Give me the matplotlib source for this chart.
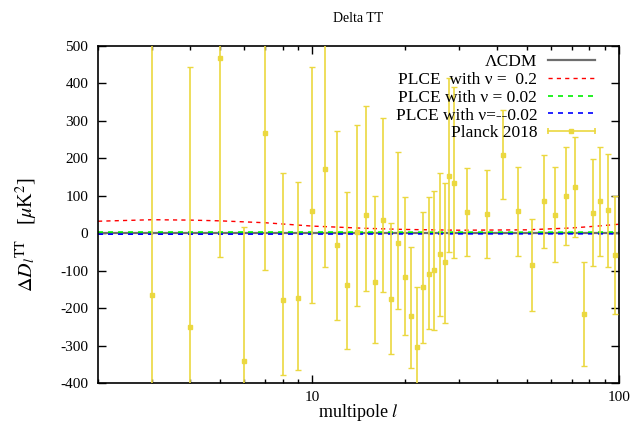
#!/usr/bin/env python3
"""Delta TT residuals: PLCE models vs. Planck 2018, relative to LCDM."""

import matplotlib
matplotlib.use("Agg")
import matplotlib.pyplot as plt
from matplotlib.container import ErrorbarContainer
from matplotlib.legend_handler import HandlerBase
from matplotlib.lines import Line2D
from matplotlib.ticker import FixedLocator, NullFormatter

plt.rcParams["font.family"] = ["Liberation Serif", "DejaVu Serif"]
plt.rcParams["mathtext.fontset"] = "stix"
plt.rcParams["axes.unicode_minus"] = False

# Planck 2018 residuals (low-l, asymmetric errors)
ell_low = [3, 4, 5, 6, 7, 8, 9, 10, 11, 12, 13, 14, 15, 16, 17, 18, 19, 20,
           21, 22, 23, 24, 25, 26, 27, 28, 29]
dl_low = [-165, -251, 467, -341, 267, -179, -173, 59, 171, -32, -139, 3, 48,
          -131, 35, -175, -26, -117, -221, -303, -144, -109, -99, -56, -77,
          152, 133]
err_up_low = [900, 696, 500, 358, 400, 340, 309, 385, 350, 305, 249, 285, 292,
              231, 273, 203, 244, 214, 185, 159, 201, 207, 212, 217, 210, 262,
              257]
err_dn_low = [650, 600, 530, 500, 366, 200, 192, 245, 261, 201, 169, 197, 201,
              163, 193, 147, 176, 155, 138, 130, 150, 148, 159, 166, 163, 201,
              198]

# Planck 2018 residuals (binned high-l, symmetric errors)
ell_bin = [32, 37, 42, 47, 52, 57, 62, 67, 72, 77, 82, 87, 92, 97]
dl_bin = [56, 51, 210, 59, -85, 85, 49, 99, 123, -216, 55, 85, 61, -59]
err_bin = [117, 118, 118, 119, 122, 124, 127, 130, 134, 138, 142, 145, 150, 158]

# model curves relative to LCDM
ell_model = [2, 3, 4, 5, 7, 10, 15, 20, 30, 50, 70, 85, 100]
plce_02 = [32, 36, 35, 33, 28, 19, 13, 10, 8, 9, 14, 19, 24]
plce_002 = [3, 3, 3, 3, 3, 3, 2.8, 2.7, 2.6, 2.5, 2.6, 2.8, 3]
plce_m002 = [-2.5, -2.5, -2.5, -2.4, -2.3, -2.2, -2, -1.8, -1.6, -1.5, -1.5,
             -1.5, -1.5]
lcdm = [0] * len(ell_model)

PLANCK_COLOR = "#ebd840"


class XErrHandler(HandlerBase):
    """gnuplot-style legend sample: horizontal bar with end caps."""

    def create_artists(self, legend, orig, xdescent, ydescent, width, height,
                       fontsize, trans):
        y = height / 2 - ydescent
        x0, x1 = -xdescent, width - xdescent
        bar = Line2D([x0, x1], [y, y], color=PLANCK_COLOR, lw=1.2)
        caps = Line2D([x0, x1], [y, y], ls="", marker="|", ms=5,
                      mew=1.2, color=PLANCK_COLOR)
        mid = Line2D([(x0 + x1) / 2], [y], ls="", marker="s", ms=3,
                     color=PLANCK_COLOR)
        for a in (bar, caps, mid):
            a.set_transform(trans)
        return [bar, caps, mid]


fig = plt.figure(figsize=(6.44, 4.38), dpi=100)
ax = fig.add_axes([0.1522, 0.1256, 0.8090, 0.7694])

h_lcdm, = ax.plot(ell_model, lcdm, color="#6e6e6e", lw=1.6, label="ΛCDM")
h_02, = ax.plot(ell_model, plce_02, color="#ff0000", lw=1, dashes=(3, 3),
                label="PLCE  with ν =  0.2")
h_002, = ax.plot(ell_model, plce_002, color="#00ee00", lw=1.2, dashes=(3, 3),
                 label="PLCE with ν = 0.02")
h_m002, = ax.plot(ell_model, plce_m002, color="#0000ff", lw=1.2,
                  dashes=(3, 3), label="PLCE with ν=--0.02")

eb = ax.errorbar(ell_low, dl_low, yerr=[err_dn_low, err_up_low], fmt="s",
                 ms=3, color=PLANCK_COLOR, ecolor=PLANCK_COLOR, elinewidth=1.2,
                 capsize=2.5, capthick=1, label="Planck 2018", zorder=3)
ax.errorbar(ell_bin, dl_bin, yerr=err_bin, fmt="s", ms=3, color=PLANCK_COLOR,
            ecolor=PLANCK_COLOR, elinewidth=1.2, capsize=2.5, capthick=1,
            zorder=3)

ax.set_xscale("log")
ax.set_xlim(2, 100)
ax.set_ylim(-400, 500)
ax.set_yticks(range(-400, 501, 100))
ax.xaxis.set_major_locator(FixedLocator([10, 100]))
ax.xaxis.set_minor_locator(FixedLocator([2, 3, 4, 5, 6, 7, 8, 9,
                                         20, 30, 40, 50, 60, 70, 80, 90]))
ax.xaxis.set_minor_formatter(NullFormatter())
ax.set_xticklabels(["10", "100"])
ax.tick_params(which="both", direction="in", top=True, right=True,
               labelsize=11)
ax.tick_params(which="major", length=6, width=1)
ax.tick_params(which="minor", length=3, width=1)
ax.tick_params(axis="y", pad=7)
ax.tick_params(axis="x", pad=6)
for s in ax.spines.values():
    s.set_linewidth(1.2)

ax.set_title("Delta TT", fontsize=10, pad=17)
ax.set_xlabel(r"multipole $l$", fontsize=13, labelpad=-2)
ax.set_ylabel(r"$\Delta D_l{}^{\mathrm{TT}}$   [$\mu$K$^2$]", fontsize=14.5)
ax.yaxis.set_label_coords(-0.112, 0.44)

ax.legend(handles=[h_lcdm, h_02, h_002, h_m002, eb],
          handler_map={ErrorbarContainer: XErrHandler()},
          loc="upper right", bbox_to_anchor=(0.973, 1.008), frameon=False,
          markerfirst=False, fontsize=12.5, handlelength=2.7,
          handletextpad=0.6, labelspacing=0.1, borderpad=0.1)

fig.savefig("out.png", dpi=100)
